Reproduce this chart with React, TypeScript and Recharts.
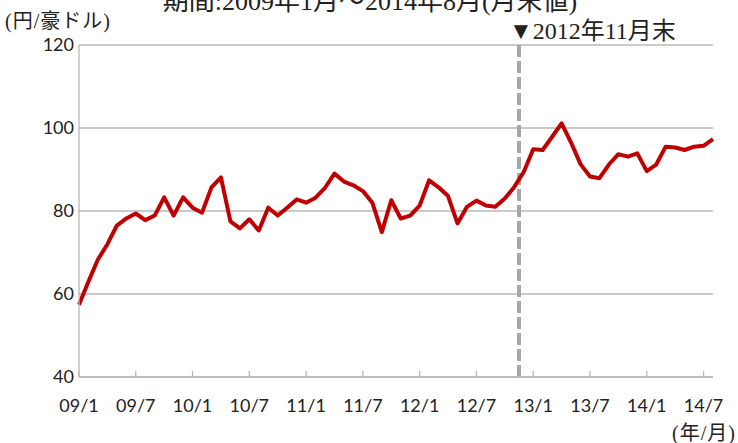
import React from "react";
import { LineChart, Line, XAxis, YAxis, CartesianGrid, ReferenceLine } from "recharts";

const months: string[] = [
  "09/1","09/2","09/3","09/4","09/5","09/6","09/7","09/8","09/9","09/10","09/11","09/12",
  "10/1","10/2","10/3","10/4","10/5","10/6","10/7","10/8","10/9","10/10","10/11","10/12",
  "11/1","11/2","11/3","11/4","11/5","11/6","11/7","11/8","11/9","11/10","11/11","11/12",
  "12/1","12/2","12/3","12/4","12/5","12/6","12/7","12/8","12/9","12/10","12/11","12/12",
  "13/1","13/2","13/3","13/4","13/5","13/6","13/7","13/8","13/9","13/10","13/11","13/12",
  "14/1","14/2","14/3","14/4","14/5","14/6","14/7","14/8",
];

const rates: number[] = [
  57.4, 63.0, 68.3, 72.0, 76.5, 78.2, 79.4, 77.8, 78.9, 83.3, 78.9, 83.3,
  80.8, 79.6, 85.7, 88.1, 77.5, 75.8, 78.0, 75.3, 80.8, 78.9, 80.8, 82.8,
  82.0, 83.2, 85.6, 89.0, 87.1, 86.2, 84.8, 82.0, 74.9, 82.6, 78.2, 78.9,
  81.3, 87.4, 85.7, 83.6, 77.0, 81.0, 82.5, 81.3, 81.0, 83.0, 85.8, 89.4,
  94.9, 94.7, 97.9, 101.1, 96.5, 91.3, 88.3, 87.9, 91.2, 93.7, 93.1, 93.9,
  89.6, 91.2, 95.5, 95.3, 94.7, 95.5, 95.7, 97.3,
];

const xTickLabels: string[] = ["09/1","09/7","10/1","10/7","11/1","11/7","12/1","12/7","13/1","13/7","14/1","14/7"];
const yTicks: number[] = [40, 60, 80, 100, 120];
const markerMonth = "12/11";

const data = months.map((m, i) => ({ idx: i, month: m, rate: rates[i] }));
const xTicks = xTickLabels.map((l) => months.indexOf(l));
const markerX = months.indexOf(markerMonth) + 0.5;

const sans = "Lato, 'Open Sans', sans-serif";
const serif = "'Liberation Serif', 'Noto Sans CJK JP', serif";

export default function App() {
  return (
    <div style={{ position: "absolute", left: 0, top: 0, width: 738, height: 443, background: "#fff" }}>
      <LineChart width={738} height={443} data={data} margin={{ top: 45, right: 25, bottom: 0, left: 0 }}>
        <CartesianGrid horizontal vertical={false} stroke="#b8b8b8" strokeWidth={1.3} />
        <XAxis
          dataKey="idx"
          type="number"
          domain={[0, months.length - 1]}
          ticks={xTicks}
          tickFormatter={(v: number) => months[v]}
          interval={0}
          height={66}
          stroke="#b8b8b8"
          axisLine={{ stroke: "#b8b8b8", strokeWidth: 1.3 }}
          tickLine={{ stroke: "#b8b8b8", strokeWidth: 1.3 }}
          tickSize={-6}
          tickMargin={28}
          tick={{ fill: "#222", fontSize: 18, fontFamily: sans }}
        />
        <YAxis
          domain={[40, 120]}
          ticks={yTicks}
          width={79}
          axisLine={{ stroke: "#b8b8b8", strokeWidth: 1.3 }}
          tickLine={false}
          tickSize={0}
          tickMargin={5}
          tick={{ fill: "#222", fontSize: 18, fontFamily: sans }}
        />
        <ReferenceLine x={markerX} stroke="#a6a6a6" strokeWidth={4} strokeDasharray="12 4" />
        <Line
          dataKey="rate"
          type="linear"
          stroke="#c00000"
          strokeWidth={4}
          dot={false}
          strokeLinejoin="round"
          isAnimationActive={false}
        />
      </LineChart>
      <svg width={738} height={443} style={{ position: "absolute", left: 0, top: 0, pointerEvents: "none" }}>
        <text x={370} y={10} textAnchor="middle" fontSize={26} fontFamily={serif} fill="#222">
          期間:2009年1月～2014年8月(月末値)
        </text>
        <text x={5} y={28} fontSize={20} letterSpacing={1} fontFamily={serif} fill="#222">(円/豪ドル)</text>
        <text x={509} y={39} fontSize={24} fontFamily={serif} fill="#222">▼2012年11月末</text>
        <text x={736} y={440} textAnchor="end" fontSize={20} letterSpacing={1} fontFamily={serif} fill="#222">(年/月)</text>
      </svg>
    </div>
  );
}
